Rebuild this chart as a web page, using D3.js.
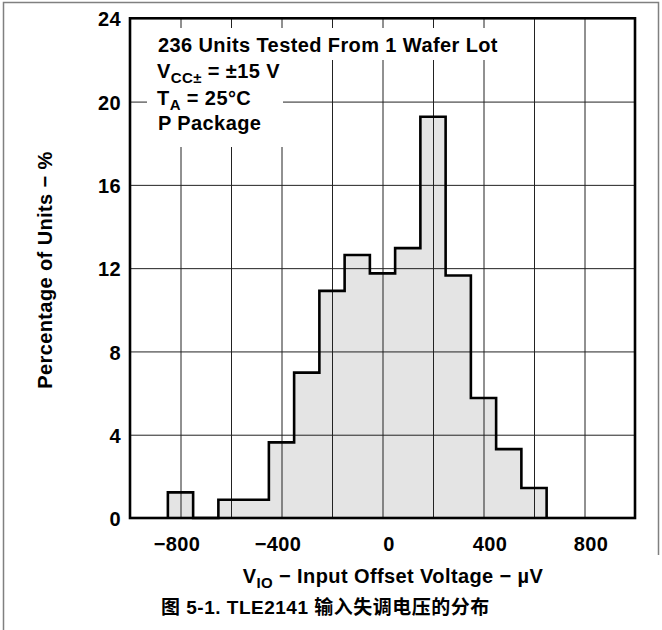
<!DOCTYPE html>
<html>
<head>
<meta charset="utf-8">
<script src="https://cdn.jsdelivr.net/npm/d3@7"></script>
<style>
  html, body { margin: 0; padding: 0; background: #fff; }
  svg text { font-family: "Liberation Sans", Arial, "Noto Sans CJK SC", sans-serif; font-weight: bold; fill: #000; }
</style>
</head>
<body>
<svg id="chart" width="662" height="630"></svg>
<script>
// ---- data ----
const binCenters = [-800, -700, -600, -500, -400, -300, -200, -100, 0, 100, 200, 300, 400, 500, 600];
const percentUnits = [1.23, 0, 0.88, 0.88, 3.63, 6.98, 10.91, 12.63, 11.75, 12.96, 19.27, 11.65, 5.76, 3.31, 1.44];
const binWidth = 100;
const xGridValues = [-800, -600, -400, -200, 0, 200, 400, 600, 800];
const xTickLabels = [-800, -400, 0, 400, 800];
const yTickValues = [0, 4, 8, 12, 16, 20, 24];
const yGridValues = [4, 8, 12, 16, 20];
const xDomain = [-1000, 1000];
const yDomain = [0, 24];
const infoLines = ["236 Units Tested From 1 Wafer Lot", "P Package"];
const captionText = "图 5-1. TLE2141 输入失调电压的分布";

// ---- layout ----
const L = 130, R = 635, T = 18.3, B = 518;
const svg = d3.select("#chart");
const x = d3.scaleLinear().domain(xDomain).range([L, R]);
const y = d3.scaleLinear().domain(yDomain).range([B, T]);
const fs = 20, ls = "0.4px";

// outer figure border (left, top, right)
svg.append("path")
  .attr("d", "M3.5,630 L3.5,2.5 L658.5,2.5 L658.5,555")
  .attr("fill", "none").attr("stroke", "#808080").attr("stroke-width", 1.5);

// histogram points
const pts = [[binCenters[0] - binWidth / 2, 0]];
binCenters.forEach((c, i) => {
  pts.push([c - binWidth / 2, percentUnits[i]]);
  pts.push([c + binWidth / 2, percentUnits[i]]);
});
pts.push([binCenters[binCenters.length - 1] + binWidth / 2, 0]);
const line = d3.line().x(d => x(d[0])).y(d => y(d[1]));

// fill
svg.append("path").attr("d", line(pts) + "Z").attr("fill", "#e4e4e4").attr("stroke", "none");

// grid lines
const gx = svg.append("g").attr("transform", `translate(0,${B})`)
  .call(d3.axisBottom(x).tickValues(xGridValues).tickSize(-(B - T)).tickFormat(""));
gx.select(".domain").remove();
gx.selectAll("line").attr("stroke", "#222").attr("stroke-width", 1);
const gy = svg.append("g").attr("transform", `translate(${L},0)`)
  .call(d3.axisLeft(y).tickValues(yGridValues).tickSize(-(R - L)).tickFormat(""));
gy.select(".domain").remove();
gy.selectAll("line").attr("stroke", "#222").attr("stroke-width", 1);

// white boxes behind the annotation text
svg.append("rect").attr("x", 147).attr("y", 28).attr("width", 366).attr("height", 32).attr("fill", "#fff");
svg.append("rect").attr("x", 147).attr("y", 60).attr("width", 136).attr("height", 87).attr("fill", "#fff");

// outline
svg.append("path").attr("d", line(pts)).attr("fill", "none")
  .attr("stroke", "#000").attr("stroke-width", 2.6).attr("stroke-linejoin", "miter");

// frame
svg.append("rect").attr("x", L).attr("y", T).attr("width", R - L).attr("height", B - T)
  .attr("fill", "none").attr("stroke", "#000").attr("stroke-width", 2.6);

// tick labels
const ax = svg.append("g").attr("transform", `translate(0,${B})`)
  .call(d3.axisBottom(x).tickValues(xTickLabels).tickSize(0).tickPadding(0)
    .tickFormat(d => d < 0 ? "\u2212" + Math.abs(d) : String(d)));
ax.select(".domain").remove();
ax.selectAll("text")
  .attr("y", 33).attr("dy", 0)
  .attr("dx", d => d < 0 ? -4 : 6)
  .style("font-size", fs + "px").style("letter-spacing", ls)
  .style("font-family", '"Liberation Sans", Arial, sans-serif').style("font-weight", "bold");

const ay = svg.append("g").attr("transform", `translate(${L},0)`)
  .call(d3.axisLeft(y).tickValues(yTickValues).tickSize(0).tickPadding(9));
ay.select(".domain").remove();
ay.selectAll("text")
  .attr("dy", "0.38em")
  .style("font-size", fs + "px").style("letter-spacing", ls)
  .style("font-family", '"Liberation Sans", Arial, sans-serif').style("font-weight", "bold");

// annotation lines
svg.append("text").attr("x", 158).attr("y", 52).style("font-size", fs + "px").style("letter-spacing", ls).text(infoLines[0]);
const t2 = svg.append("text").attr("x", 157).attr("y", 78).style("font-size", fs + "px").style("letter-spacing", ls);
t2.append("tspan").text("V");
t2.append("tspan").attr("dy", 5).style("font-size", "15px").text("CC\u00B1");
t2.append("tspan").attr("dy", -5).text(" = \u00B115 V");
const t3 = svg.append("text").attr("x", 157).attr("y", 105).style("font-size", fs + "px").style("letter-spacing", ls);
t3.append("tspan").text("T");
t3.append("tspan").attr("dy", 5).style("font-size", "15px").text("A");
t3.append("tspan").attr("dy", -5).text(" = 25\u00B0C");
svg.append("text").attr("x", 158).attr("y", 130).style("font-size", fs + "px").style("letter-spacing", ls).text(infoLines[1]);

// y axis title
svg.append("text")
  .attr("transform", "translate(52,270) rotate(-90)")
  .attr("text-anchor", "middle")
  .style("font-size", fs + "px").style("letter-spacing", ls)
  .text("Percentage of Units \u2212 %");

// x axis title
const xt = svg.append("text").attr("x", 393).attr("y", 583).attr("text-anchor", "middle")
  .style("font-size", fs + "px").style("letter-spacing", ls);
xt.append("tspan").text("V");
xt.append("tspan").attr("dy", 5).style("font-size", "15px").text("IO");
xt.append("tspan").attr("dy", -5).text(" \u2212 Input Offset Voltage \u2212 \u00B5V");

// caption
svg.append("text").attr("x", 161).attr("y", 614)
  .style("font-size", "19px").style("letter-spacing", "0.5px")
  .text(captionText);
</script>
</body>
</html>
